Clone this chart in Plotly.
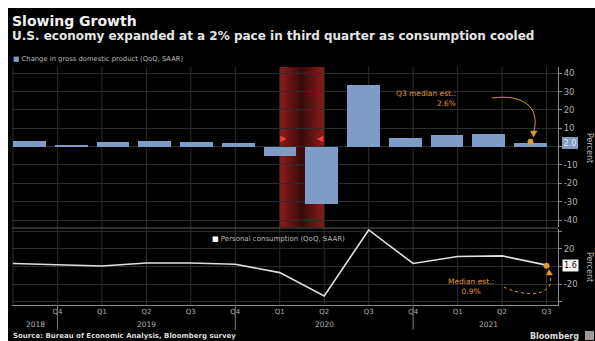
import plotly.graph_objects as go

# ---------------- data ----------------
quarters = ["Q3", "Q4", "Q1", "Q2", "Q3", "Q4", "Q1", "Q2", "Q3", "Q4", "Q1", "Q2", "Q3"]
years = ["2018", "2018", "2019", "2019", "2019", "2019", "2020", "2020", "2020", "2020", "2021", "2021", "2021"]
gdp_growth = [2.9, 1.1, 2.4, 3.2, 2.8, 1.9, -5.1, -31.2, 33.8, 4.5, 6.3, 6.7, 2.0]
pce_growth = [3.5, 2.3, 0.5, 4.0, 3.9, 2.6, -6.9, -33.4, 41.4, 3.4, 11.4, 12.0, 1.6]
gdp_median_est = 2.6
pce_median_est = 0.9
recession = (6, 7)            # quarter index span shaded
year_labels = ["2018", "2019", "2020", "2021"]
year_label_pos = [0.5, 3.0, 7.0, 10.7]
year_breaks = [1, 5, 9]
top_ticks = [-40, -30, -20, -10, 0, 10, 20, 30, 40]
bot_ticks = [-40, -20, 0, 20, 40]

idx = list(range(len(quarters)))

W, H = 595, 341
def px(x): return x / W
def py(y): return 1 - y / H

FONT = "DejaVu Sans"
BAR = "#7f9cc6"
ORANGE = "#e09a2e"
GRID = "#2c2c2c"
AXIS = "#8a8a8a"
TICK = "#b0b0b0"

fig = go.Figure()

fig.add_trace(go.Bar(x=idx, y=gdp_growth, width=0.79, marker_color=BAR,
                     marker_line_width=0, xaxis="x", yaxis="y", showlegend=False))
fig.add_trace(go.Scatter(x=[idx[-1]], y=[gdp_median_est], mode="markers",
                         marker=dict(color=ORANGE, size=6), xaxis="x", yaxis="y",
                         showlegend=False))
fig.add_trace(go.Scatter(x=idx, y=pce_growth, mode="lines",
                         line=dict(color="#e0e0e0", width=1.6), xaxis="x2", yaxis="y2",
                         showlegend=False))
fig.add_trace(go.Scatter(x=[idx[-1]], y=[pce_median_est], mode="markers",
                         marker=dict(color=ORANGE, size=6), xaxis="x2", yaxis="y2",
                         showlegend=False))

shapes = []
# black canvas
shapes.append(dict(type="rect", xref="paper", yref="paper", x0=px(8), x1=1, y0=0, y1=py(8),
                   fillcolor="black", line_width=0, layer="below"))
# recession shading with a horizontal gradient
n = 14
r0, r1 = recession
step = (r1 - r0) / n
for k in range(n):
    t = (k + 0.5) / n
    d = abs(2 * t - 1) ** 0.9
    r = int(55 + 85 * d); g = int(10 + 18 * d); b = int(10 + 18 * d)
    shapes.append(dict(type="rect", xref="x2", yref="paper",
                       x0=r0 + step * k, x1=min(r1, r0 + step * (k + 1) + step * 0.6),
                       y0=py(227), y1=py(67), fillcolor=f"rgb({r},{g},{b})",
                       line_width=0, layer="below"))
# horizontal grid lines visible through the shading
for v in top_ticks:
    shapes.append(dict(type="line", xref="x2", yref="y", x0=r0, x1=r1, y0=v, y1=v,
                       line=dict(color="rgba(120,60,60,0.35)", width=1), layer="below"))
# vertical grid lines shared by both panels
for i in idx:
    if r0 < i < r1:
        continue
    shapes.append(dict(type="line", xref="x2", yref="paper", x0=i, x1=i,
                       y0=py(305), y1=py(67), line=dict(color=GRID, width=1), layer="below"))
# panel separator
shapes.append(dict(type="line", xref="paper", yref="paper", x0=px(12), x1=px(558),
                   y0=py(228), y1=py(228), line=dict(color="#5a5a5a", width=1)))
# year separators under the axis
for i in year_breaks:
    shapes.append(dict(type="line", xref="x2", yref="paper", x0=i, x1=i,
                       y0=py(330), y1=py(305), line=dict(color="#777777", width=1)))

def path(points):
    (x0, y0), rest = points[0], points[1:]
    s = f"M {px(x0)},{py(y0)} C " + " ".join(f"{px(x)},{py(y)}" for x, y in rest)
    return s

def tri(points):
    return "M " + " L ".join(f"{px(x)},{py(y)}" for x, y in points) + " Z"

# curved call-out arrows
shapes.append(dict(type="path", xref="paper", yref="paper",
                   path=path([(492, 98), (522, 94), (540, 106), (534, 131)]),
                   line=dict(color=ORANGE, width=1)))
shapes.append(dict(type="path", xref="paper", yref="paper",
                   path=tri([(530.5, 131), (537, 131), (533.5, 137)]),
                   fillcolor=ORANGE, line=dict(color=ORANGE, width=0.5)))
shapes.append(dict(type="path", xref="paper", yref="paper",
                   path=path([(504, 287), (526, 298), (556, 296), (550, 275)]),
                   line=dict(color=ORANGE, width=1, dash="dot")))
shapes.append(dict(type="path", xref="paper", yref="paper",
                   path=tri([(546.5, 275), (552.5, 275), (549, 269.5)]),
                   fillcolor=ORANGE, line=dict(color=ORANGE, width=0.5)))
# Bloomberg logo box
shapes.append(dict(type="rect", xref="paper", yref="paper", x0=px(585), x1=px(594),
                   y0=py(340), y1=py(331), fillcolor="#9a9a9a", line_width=0))

ann = []
def text(x, y, s, size, color, bold=False, xanchor="left", align="left", **kw):
    d = dict(xref="paper", yref="paper", x=px(x), y=py(y), text=f"<b>{s}</b>" if bold else s,
             showarrow=False, xanchor=xanchor, yanchor="middle", align=align,
             font=dict(family=FONT, size=size, color=color))
    d.update(kw)
    ann.append(d)

text(10, 21, "Slowing Growth", 14, "#f2f2f2", bold=True)
text(10, 36, "U.S. economy expanded at a 2% pace in third quarter as consumption cooled", 12,
     "#e6e6e6", bold=True)
text(11, 59, f"<span style='color:{BAR}'>■</span> Change in gross domestic product (QoQ, SAAR)",
     6.8, "#bdbdbd")
text(210, 239, "<span style='color:#ffffff'>■</span> Personal consumption (QoQ, SAAR)",
     7, "#bdbdbd")
text(458, 98.5, f"Q3 median est.:<br>{gdp_median_est}%", 7.5, ORANGE, xanchor="right",
     align="right")
text(471, 286, f"Median est.:<br>{pce_median_est}%", 7.5, ORANGE, xanchor="center",
     align="center")
text(590, 148, "Percent", 8, "#bdbdbd", xanchor="center", textangle=90)
text(590, 267, "Percent", 8, "#bdbdbd", xanchor="center", textangle=90)
text(11, 336, "Source: Bureau of Economic Analysis, Bloomberg survey", 7, "#dcdcdc", bold=True)
text(581, 336, "Bloomberg", 8, "#dcdcdc", bold=True, xanchor="right")

# year labels
for lab, pos in zip(year_labels, year_label_pos):
    ann.append(dict(xref="x2", yref="paper", x=pos, y=py(324), text=lab, showarrow=False,
                    xanchor="center", yanchor="middle",
                    font=dict(family=FONT, size=7.5, color=TICK)))
# last value boxes on the axes
ann.append(dict(xref="paper", yref="y", x=px(562), y=gdp_growth[-1], text=f"{gdp_growth[-1]:.1f}",
                showarrow=False, xanchor="left", yanchor="middle", bgcolor=BAR,
                bordercolor="#a9c0e0", borderwidth=0.5, borderpad=1,
                font=dict(family=FONT, size=8, color="#e8eef8")))
ann.append(dict(xref="paper", yref="y2", x=px(562), y=pce_growth[-1], text=f"{pce_growth[-1]:.1f}",
                showarrow=False, xanchor="left", yanchor="middle", bgcolor="#f4f4f4",
                borderpad=1, font=dict(family=FONT, size=8, color="#111111")))
# recession markers
for xv, sym, shift in [(recession[0], "▶", 4), (recession[1], "◀", -4)]:
    ann.append(dict(xref="x2", yref="y", x=xv, y=4.2, text=sym, showarrow=False,
                    xanchor="center", yanchor="middle", xshift=shift,
                    font=dict(family=FONT, size=8, color="#ff3a3a")))

xd = [px(12), px(558)]
fig.update_layout(
    width=W, height=H, margin=dict(l=0, r=0, t=0, b=0),
    paper_bgcolor="white", plot_bgcolor="black",
    font=dict(family=FONT, color=TICK),
    shapes=shapes, annotations=ann, bargap=0,
    xaxis=dict(domain=xd, anchor="y", range=[-0.419, 12.659], visible=False,
               fixedrange=True),
    yaxis=dict(domain=[py(227), py(67)], anchor="x", side="right", range=[-43.8, 43.4],
               tickvals=top_ticks, ticktext=[("" if v == 0 else str(v)) for v in top_ticks],
               showgrid=True, gridcolor=GRID, gridwidth=1, zeroline=False,
               showline=True, linecolor=AXIS, linewidth=1, ticks="outside", ticklen=3,
               tickcolor=AXIS, tickfont=dict(size=8.5, color=TICK)),
    xaxis2=dict(domain=xd, anchor="y2", range=[-0.0225, 12.258],
                tickvals=idx[1:], ticktext=quarters[1:], showgrid=False, zeroline=False,
                showline=True, linecolor=AXIS, linewidth=1, ticks="",
                tickfont=dict(size=7, color=TICK)),
    yaxis2=dict(domain=[py(305), py(229)], anchor="x2", side="right", range=[-43.6, 42.5],
                tickvals=bot_ticks, ticktext=["", "-20", "", "20", ""],
                showgrid=True, gridcolor=GRID, gridwidth=1, zeroline=False,
                showline=True, linecolor=AXIS, linewidth=1, ticks="outside", ticklen=3,
                tickcolor=AXIS, tickfont=dict(size=8.5, color=TICK)),
)

fig.write_html("out.html")
